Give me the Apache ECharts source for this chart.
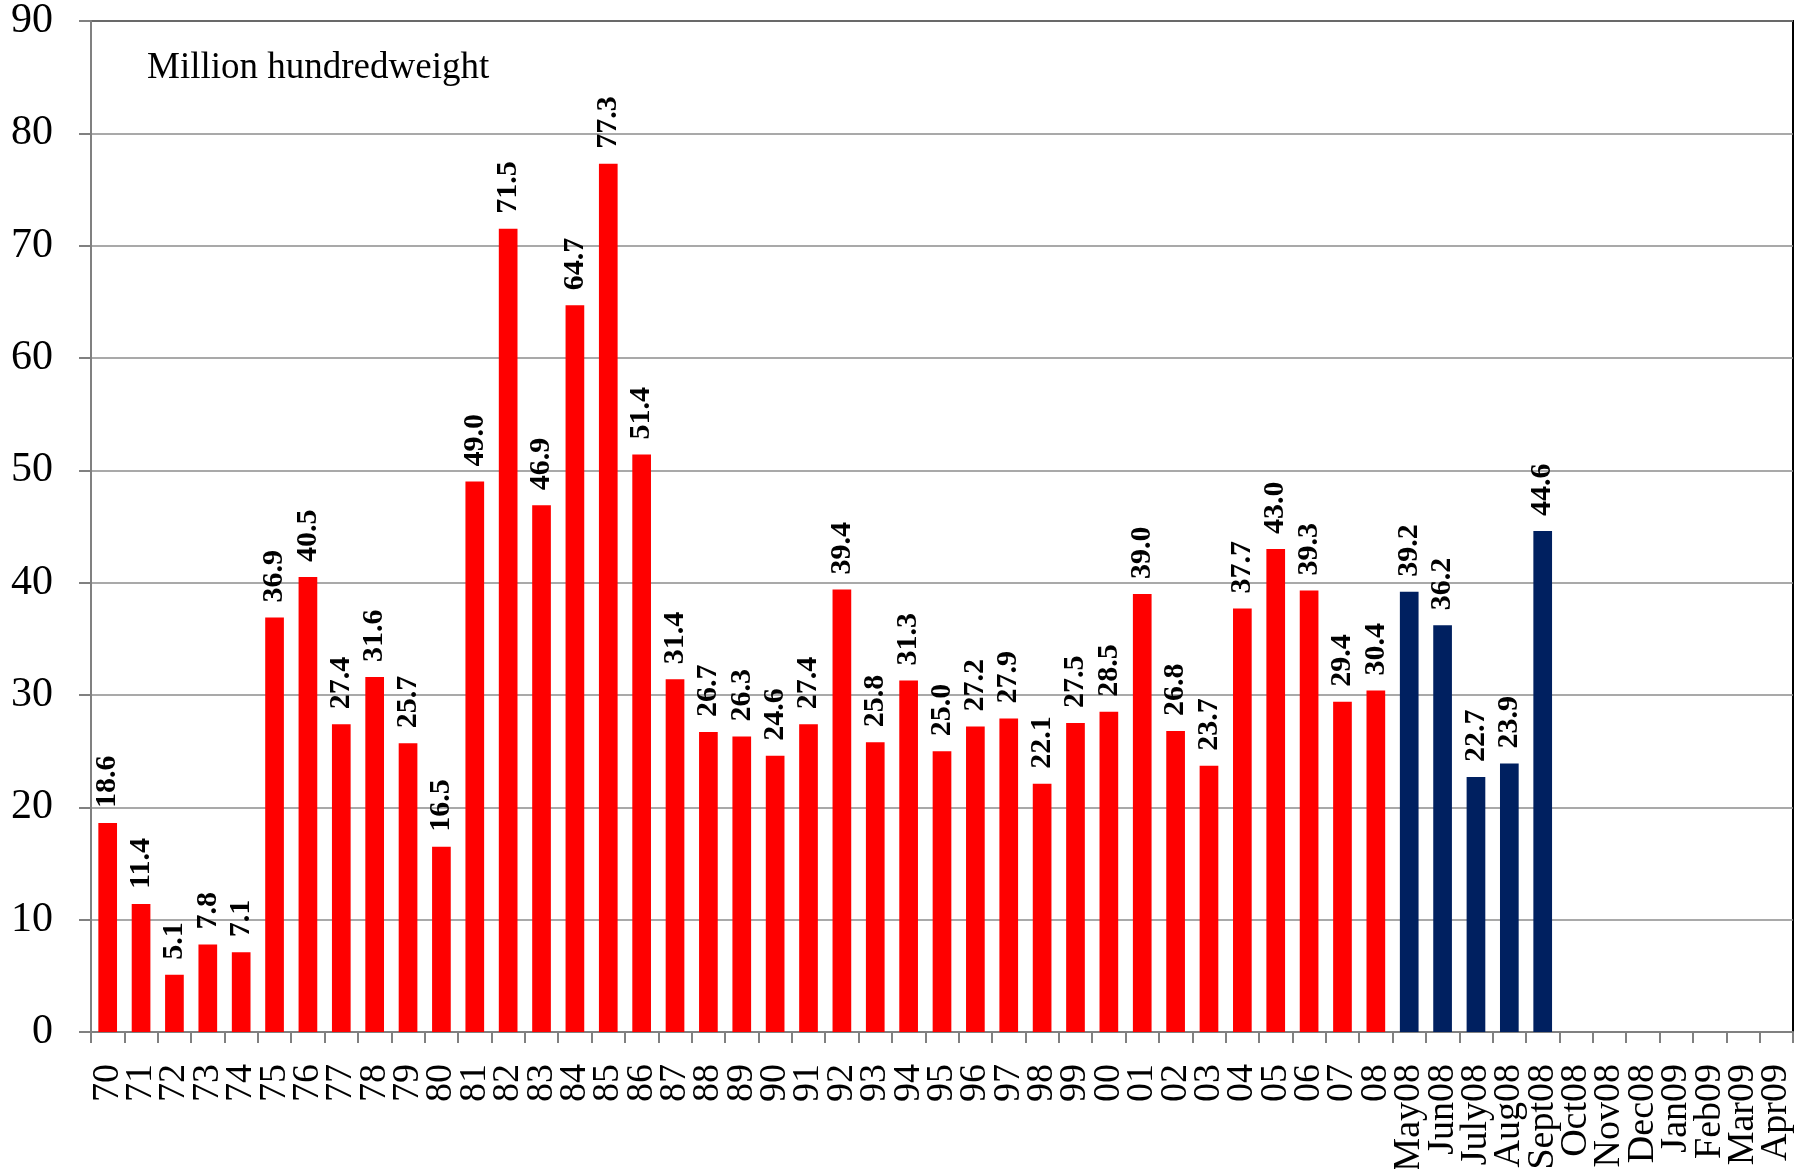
<!DOCTYPE html>
<html>
<head>
<meta charset="utf-8">
<script src="https://cdn.jsdelivr.net/npm/echarts@6/dist/echarts.min.js"></script>
<style>
  html, body { margin: 0; padding: 0; background: #fff; }
  #chart { width: 1812px; height: 1169px; }
</style>
</head>
<body>
<div id="chart"></div>
<script>
const annualCategories = ['70', '71', '72', '73', '74', '75', '76', '77', '78', '79',
  '80', '81', '82', '83', '84', '85', '86', '87', '88', '89',
  '90', '91', '92', '93', '94', '95', '96', '97', '98', '99',
  '00', '01', '02', '03', '04', '05', '06', '07', '08']
const annualValues = [18.6, 11.4, 5.1, 7.8, 7.1, 36.9, 40.5, 27.4, 31.6, 25.7,
  16.5, 49.0, 71.5, 46.9, 64.7, 77.3, 51.4, 31.4, 26.7, 26.3,
  24.6, 27.4, 39.4, 25.8, 31.3, 25.0, 27.2, 27.9, 22.1, 27.5,
  28.5, 39.0, 26.8, 23.7, 37.7, 43.0, 39.3, 29.4, 30.4]
const monthCategories = ['May08', 'Jun08', 'July08', 'Aug08', 'Sept08', 'Oct08',
  'Nov08', 'Dec08', 'Jan09', 'Feb09', 'Mar09', 'Apr09']
const monthValues = [39.2, 36.2, 22.7, 23.9, 44.6, null, null, null, null, null, null, null]
const yTicks = [0, 10, 20, 30, 40, 50, 60, 70, 80, 90]

const serif = '"Liberation Serif", "Times New Roman", serif'
const categories = annualCategories.concat(monthCategories)

const barData = annualValues
  .map(v => ({ value: v, itemStyle: { color: '#ff0000' } }))
  .concat(monthValues.map(v => (v == null ? '-' : { value: v, itemStyle: { color: '#002060' } })))

const chart = echarts.init(document.getElementById('chart'), null, { renderer: 'canvas' })

chart.setOption({
  backgroundColor: '#fff',
  animation: false,
  title: {
    text: 'Million hundredweight',
    left: 147,
    top: 50,
    padding: 0,
    textStyle: { fontFamily: serif, fontSize: 37, fontWeight: 'normal', color: '#000' },
  },
  grid: {
    left: 91,
    right: 19,
    top: 21,
    bottom: 137,
    containLabel: false,
    outerBoundsMode: 'none',
    show: true,
    borderColor: '#000',
    borderWidth: 2,
    backgroundColor: 'transparent',
  },
  xAxis: {
    type: 'category',
    data: categories,
    boundaryGap: true,
    axisLine: { lineStyle: { color: '#808080', width: 2 } },
    axisTick: { show: true, alignWithLabel: false, interval: 0, length: 11, lineStyle: { color: '#808080', width: 2 } },
    axisLabel: {
      interval: 0,
      rotate: 90,
      margin: 32,
      fontFamily: serif,
      fontSize: 38,
      color: '#000',
    },
  },
  yAxis: {
    type: 'value',
    min: yTicks[0],
    max: yTicks[yTicks.length - 1],
    interval: 10,
    axisLine: { show: true, lineStyle: { color: '#808080', width: 2 } },
    axisTick: { show: true, length: 12, lineStyle: { color: '#808080', width: 2 } },
    axisLabel: { margin: 38, fontFamily: serif, fontSize: 42, color: '#000' },
    splitLine: { lineStyle: { color: '#8c8c8c', width: 1.5 } },
  },
  series: [
    {
      type: 'bar',
      data: barData,
      barCategoryGap: '44%',
      label: {
        show: true,
        position: 'top',
        rotate: 90,
        align: 'left',
        verticalAlign: 'middle',
        distance: 15,
        fontFamily: serif,
        fontSize: 30,
        fontWeight: 'bold',
        color: '#000',
        formatter: ({ value }) => (value == null || value === '-' ? '' : Number(value).toFixed(1)),
      },
    },
  ],
})
</script>
</body>
</html>
